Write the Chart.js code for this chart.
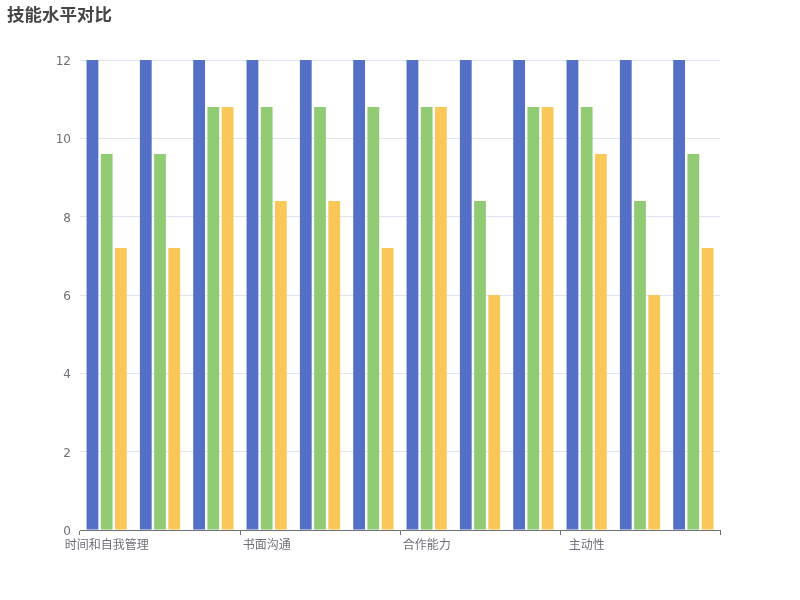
<!DOCTYPE html>
<html>
<head>
<meta charset="utf-8">
<script src="https://cdn.jsdelivr.net/npm/chart.js@4/dist/chart.umd.min.js"></script>
<style>
html,body{margin:0;padding:0;background:#fff;}
#wrap{width:800px;height:600px;position:relative;}
</style>
</head>
<body>
<div id="wrap"><canvas id="c" width="800" height="600"></canvas></div>
<script>
const categories = ["时间和自我管理", "", "", "书面沟通", "", "", "合作能力", "", "", "主动性", "", ""];
const seriesA = [12, 12, 12, 12, 12, 12, 12, 12, 12, 12, 12, 12];
const seriesB = [9.6, 9.6, 10.8, 10.8, 10.8, 10.8, 10.8, 8.4, 10.8, 10.8, 8.4, 9.6];
const seriesC = [7.2, 7.2, 10.8, 8.4, 8.4, 7.2, 10.8, 6, 10.8, 9.6, 6, 7.2];
const yTicks = [0, 2, 4, 6, 8, 10, 12];
const titleText = "技能水平对比";

const FONT = "'DejaVu Sans', 'Noto Sans CJK SC', sans-serif";
const AX = '#6E7079';

new Chart(document.getElementById('c'), {
  type: 'bar',
  data: {
    labels: categories,
    datasets: [
      {label: 'A', data: seriesA, backgroundColor: '#5470c6', borderWidth: 0, categoryPercentage: 0.8, barPercentage: 0.83},
      {label: 'B', data: seriesB, backgroundColor: '#91cc75', borderWidth: 0, categoryPercentage: 0.8, barPercentage: 0.83},
      {label: 'C', data: seriesC, backgroundColor: '#fac858', borderWidth: 0, categoryPercentage: 0.8, barPercentage: 0.83}
    ]
  },
  options: {
    responsive: false,
    animation: false,
    layout: {padding: {left: 7, right: 80, top: 0, bottom: 0}},
    plugins: {
      legend: {display: false},
      tooltip: {enabled: false},
      title: {
        display: true, text: titleText, align: 'start', color: '#464646',
        font: {family: FONT, size: 17.5, weight: 'bold'},
        padding: {top: 6, bottom: 33}
      }
    },
    scales: {
      x: {
        offset: true,
        grid: {
          offset: true,
          drawOnChartArea: false,
          drawTicks: true,
          tickLength: 5,
          color: (ctx) => (ctx.index === undefined || ctx.index % 3 === 0) ? AX : 'rgba(0,0,0,0)'
        },
        border: {display: true, color: AX, width: 1},
        ticks: {
          autoSkip: false, maxRotation: 0, minRotation: 0,
          color: AX, padding: 4,
          font: {family: FONT, size: 12},
          callback: (v, i) => i % 3 === 0 ? categories[i] : ''
        },
        afterFit: (s) => { s.height = 70; }
      },
      y: {
        min: 0, max: 12,
        afterBuildTicks: (s) => { s.ticks = yTicks.map(v => ({value: v})); },
        grid: {color: '#E0E6F1', drawTicks: false},
        border: {display: false},
        ticks: {color: AX, padding: 9, labelOffset: 2, font: {family: FONT, size: 12}},
        afterFit: (s) => { s.width = 73; }
      }
    }
  }
});
</script>
</body>
</html>
